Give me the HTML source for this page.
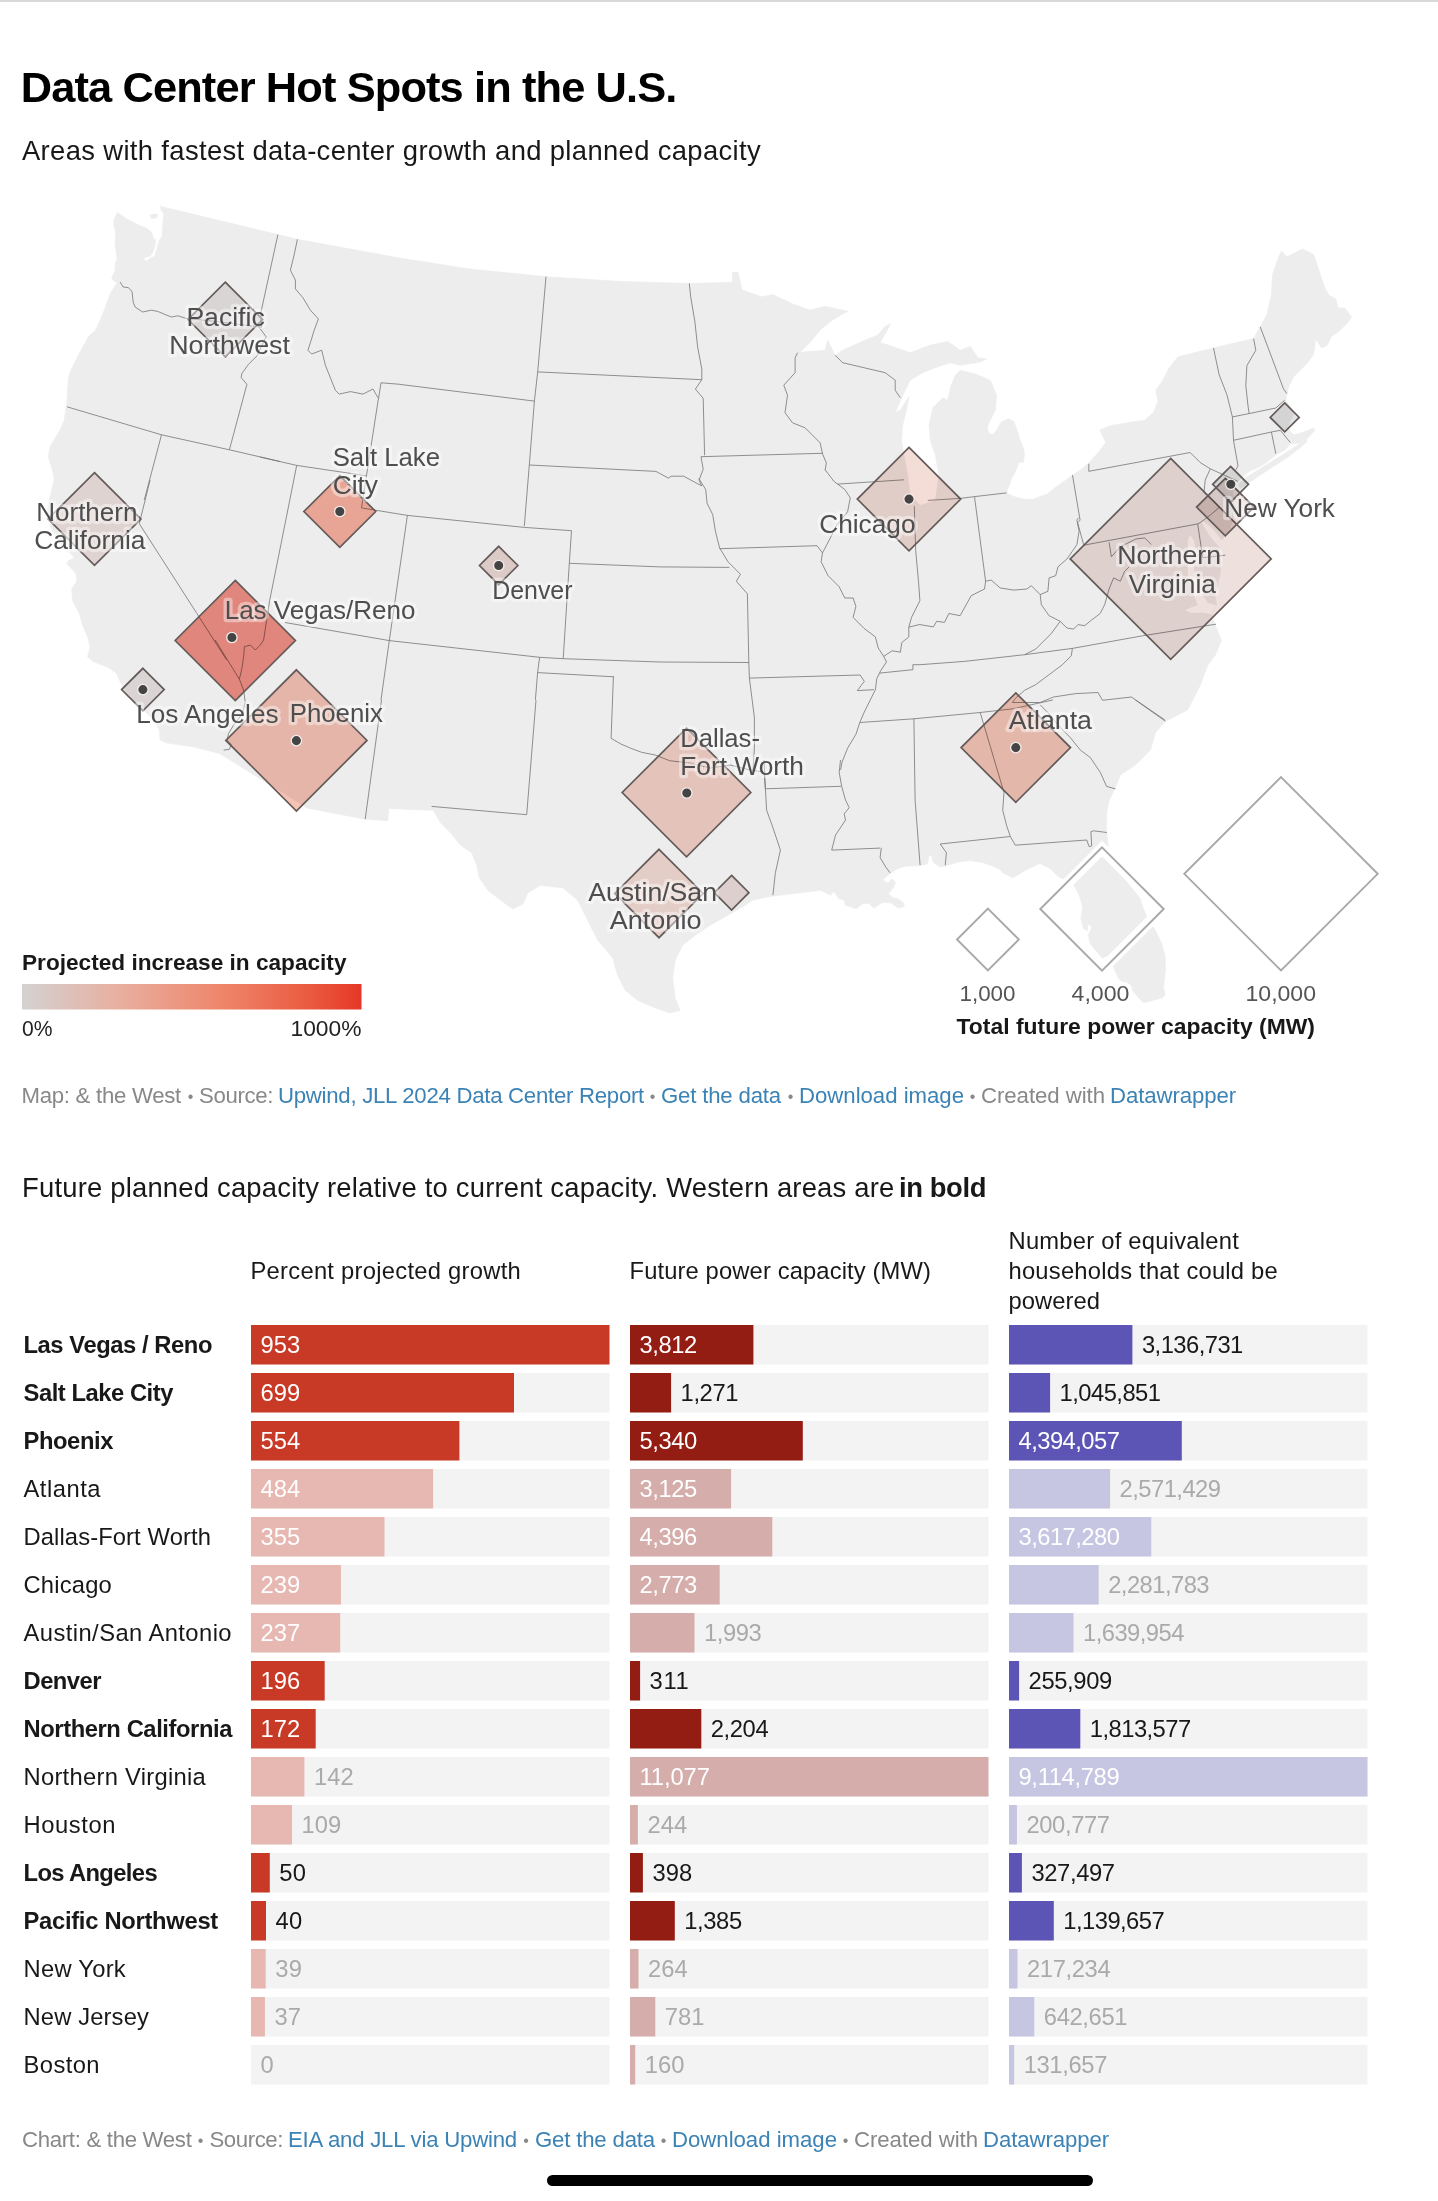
<!DOCTYPE html><html lang="en"><head><meta charset="utf-8"><title>Data Center Hot Spots in the U.S.</title>
<style>
html,body{margin:0;padding:0;background:#fff;}
body{width:1438px;height:2201px;position:relative;overflow:hidden;font-family:"Liberation Sans", Arial, sans-serif;}
.t{position:absolute;white-space:nowrap;line-height:1;margin:0;padding:0;}
b{font-weight:700;}
</style></head><body>
<div style="position:absolute;left:0;top:0;width:1438px;height:1.5px;background:#d9d9d9"></div>
<svg style="position:absolute;left:0;top:0" width="1438" height="1060" viewBox="0 0 1438 1060" font-family="Liberation Sans, Arial, sans-serif">
<defs><linearGradient id="gr" x1="0" x2="1" y1="0" y2="0"><stop offset="0" stop-color="#d4d2d2"/><stop offset="0.3" stop-color="#e9ad9d"/><stop offset="0.6" stop-color="#ee8468"/><stop offset="0.85" stop-color="#ea5a40"/><stop offset="1" stop-color="#e63727"/></linearGradient></defs>
<path d="M160.2 206.3 L277.9 234.6 L297.4 239.3 L400.0 258.1 L469.5 268.9 L546.0 276.7 L622.5 281.5 L689.3 283.4 L732.4 282.3 L732.4 272.3 L738.0 272.3 L742.1 289.8 L761.6 296.8 L772.5 294.6 L785.0 300.1 L792.5 303.8 L810.1 310.1 L825.1 306.3 L847.6 311.3 L832.6 320.1 L820.1 330.1 L810.1 342.6 L800.1 352.2 L825.1 350.2 L827.6 340.1 L835.1 355.2 L842.6 350.2 L865.2 340.1 L877.7 335.1 L885.2 326.4 L890.7 323.9 L880.2 342.6 L892.7 346.4 L910.2 352.7 L930.3 345.1 L947.8 341.4 L960.3 350.2 L970.3 346.4 L977.8 357.7 L986.6 358.9 L980.3 361.9 L960.3 365.2 L950.3 362.7 L935.3 367.7 L922.7 372.7 L910.2 380.2 L904.0 392.7 L895.2 412.7 L900.2 410.2 L909.0 396.5 L906.5 410.2 L902.7 425.3 L901.5 440.3 L904.0 455.3 L907.7 475.3 L910.2 495.4 L920.2 505.4 L935.3 500.4 L939.0 475.3 L935.3 455.3 L930.3 440.3 L929.0 425.3 L932.8 407.7 L942.8 397.7 L947.8 400.2 L950.3 387.7 L955.3 375.2 L960.3 370.2 L975.3 373.9 L990.3 380.2 L996.6 395.2 L995.4 410.2 L989.1 422.8 L988.2 423.8 L987.5 430.1 L989.4 433.8 L993.2 434.4 L997.6 428.8 L1001.3 421.9 L1008.8 418.8 L1013.8 421.3 L1017.0 430.1 L1020.1 440.1 L1023.8 448.8 L1024.5 455.1 L1023.2 462.6 L1018.8 462.6 L1017.0 467.6 L1015.1 472.6 L1011.3 478.9 L1010.1 483.9 L1007.6 488.9 L1006.9 493.3 L1013.8 496.4 L1022.6 498.9 L1032.6 499.5 L1040.1 496.4 L1047.6 493.9 L1055.1 487.6 L1063.9 481.4 L1072.7 475.1 L1080.2 470.1 L1087.7 463.9 L1093.9 457.6 L1100.2 450.1 L1105.8 442.6 L1102.1 435.1 L1099.6 430.1 L1111.2 425.4 L1133.4 421.8 L1144.5 420.3 L1153.4 412.5 L1157.9 401.3 L1155.7 390.2 L1162.3 381.3 L1169.0 368.0 L1177.9 356.8 L1213.5 347.9 L1253.6 338.6 L1260.2 326.8 L1266.9 314.6 L1271.4 294.5 L1272.5 274.5 L1278.0 258.9 L1281.4 251.1 L1286.9 256.7 L1302.5 248.9 L1313.6 254.5 L1318.1 267.8 L1324.8 287.9 L1329.2 295.6 L1335.9 299.0 L1338.1 307.9 L1344.8 307.9 L1351.5 316.8 L1347.0 323.5 L1340.3 330.1 L1331.4 336.8 L1327.0 345.7 L1321.4 347.9 L1315.9 339.0 L1313.6 354.6 L1307.0 363.5 L1300.3 370.2 L1293.6 376.9 L1289.2 385.8 L1286.9 393.6 L1285.8 401.3 L1291.4 408.0 L1293.6 414.7 L1289.2 423.6 L1289.2 430.3 L1293.6 434.7 L1302.5 432.5 L1313.6 428.0 L1314.8 430.3 L1304.7 441.4 L1299.2 443.6 L1290.3 443.6 L1284.7 450.3 L1278.0 453.6 L1264.7 463.6 L1253.6 469.9 L1265.3 462.5 L1247.8 472.5 L1237.8 481.3 L1232.0 487.0 L1233.0 493.0 L1234.0 507.0 L1232.0 523.0 L1227.0 534.0 L1222.0 540.0 L1214.0 530.0 L1206.0 523.0 L1200.0 520.0 L1205.0 529.0 L1211.0 538.0 L1219.0 547.0 L1221.0 562.0 L1220.0 574.0 L1215.0 595.0 L1216.5 605.3 L1211.5 614.0 L1215.3 625.3 L1221.5 640.3 L1215.3 655.3 L1207.8 665.3 L1200.2 685.4 L1187.7 709.9 L1165.5 721.3 L1155.5 732.5 L1150.5 750.1 L1135.4 765.1 L1120.4 775.1 L1115.4 787.6 L1109.2 800.2 L1106.6 812.7 L1106.6 830.2 L1106.8 832.5 L1108.4 848.4 L1115.1 868.4 L1126.8 881.7 L1140.1 898.4 L1142.6 906.8 L1148.5 920.1 L1155.2 930.1 L1161.8 943.5 L1165.2 956.8 L1165.5 970.2 L1163.5 986.9 L1165.2 994.4 L1162.7 997.7 L1153.5 1000.2 L1143.5 1002.7 L1140.1 999.4 L1133.5 991.9 L1126.8 985.2 L1118.4 978.5 L1113.4 966.9 L1105.9 956.0 L1102.6 958.5 L1096.7 951.8 L1090.1 943.5 L1088.4 935.2 L1091.7 926.8 L1087.6 923.5 L1087.6 931.0 L1083.4 928.5 L1080.9 918.5 L1082.6 906.8 L1079.2 895.1 L1074.2 885.9 L1065.0 880.1 L1058.4 876.7 L1050.0 868.4 L1040.0 863.4 L1025.3 870.3 L1012.8 877.8 L1002.7 872.8 L1000.0 869.4 L992.7 866.3 L982.7 862.5 L970.2 860.6 L957.7 861.9 L945.2 866.3 L940.2 866.9 L933.3 862.5 L931.4 855.0 L928.9 856.3 L927.6 863.8 L920.1 865.6 L905.1 866.3 L895.1 870.0 L888.2 875.0 L882.6 880.0 L888.2 883.2 L892.0 878.8 L895.7 882.5 L892.6 888.8 L888.2 893.8 L892.6 897.6 L897.6 898.8 L903.2 902.6 L904.5 906.3 L898.9 908.2 L890.1 902.6 L882.6 902.6 L873.8 908.2 L868.8 903.2 L862.6 903.8 L856.3 908.8 L845.0 905.1 L844.4 900.1 L838.8 898.8 L833.8 891.3 L830.5 895.2 L820.5 890.2 L790.4 894.0 L770.4 896.5 L752.8 900.2 L745.3 905.2 L727.8 915.2 L710.3 925.2 L695.3 935.3 L682.7 945.3 L675.2 960.3 L672.7 977.8 L675.2 997.9 L680.2 1010.4 L670.2 1012.9 L655.2 1007.9 L637.7 1000.4 L625.2 990.3 L617.6 975.3 L612.6 957.8 L597.6 940.3 L587.6 920.2 L577.6 900.2 L562.6 887.7 L560.0 887.8 L540.5 885.3 L528.0 892.8 L523.0 904.1 L513.0 909.1 L500.5 900.3 L487.9 890.3 L479.2 877.8 L476.7 865.2 L471.7 852.7 L460.4 845.2 L450.4 832.7 L440.4 822.7 L434.1 811.4 L432.8 810.4 L389.0 808.4 L387.8 820.7 L365.2 819.2 L307.7 808.2 L220.0 753.8 L193.5 746.8 L166.8 743.1 L160.1 740.1 L160.1 740.1 L159.3 730.1 L153.5 720.1 L140.1 706.8 L126.8 693.4 L119.2 680.1 L116.7 673.4 L108.4 667.5 L93.4 661.7 L87.5 656.7 L90.1 646.9 L87.6 636.9 L82.6 625.2 L79.2 613.5 L72.5 600.2 L71.7 588.5 L76.7 581.8 L75.9 573.5 L66.7 563.4 L69.2 560.1 L74.2 558.4 L70.9 553.4 L67.5 550.9 L60.0 543.4 L51.7 530.1 L47.0 513.4 L49.2 500.0 L54.2 480.0 L52.5 470.2 L48.3 456.8 L50.0 446.8 L55.9 436.8 L60.9 428.5 L64.2 420.1 L66.7 403.4 L67.5 390.1 L68.4 378.4 L70.9 370.1 L79.2 353.4 L88.4 336.7 L95.7 329.9 L100.1 320.2 L105.1 307.7 L110.1 293.9 L117.0 282.6 L113.9 280.7 L111.3 277.6 L113.2 275.1 L115.1 270.1 L115.1 263.2 L117.0 260.1 L116.4 253.8 L115.1 245.1 L115.7 232.6 L113.9 225.0 L113.9 220.0 L117.4 212.5 L127.6 219.4 L138.9 225.0 L146.4 228.2 L150.8 231.3 L152.7 235.1 L153.3 238.2 L155.8 240.1 L155.2 245.1 L153.3 251.3 L150.2 256.3 L145.1 257.0 L143.9 260.1 L146.4 261.3 L150.2 258.2 L154.5 256.3 L157.0 248.8 L158.9 241.3 L162.0 236.3 L162.7 226.3 L163.3 217.5 L163.9 213.8 L160.8 210.0 L160.8 206.3Z" fill="#ededed" stroke="#ededed" stroke-width="0.6" stroke-linejoin="round"/>
<path d="M1238.0 484.0 L1248.0 476.0 L1262.0 467.0 L1280.0 456.0 L1296.0 446.0 L1306.0 440.0 L1308.0 441.0 L1300.0 448.0 L1290.0 456.0 L1270.0 469.0 L1252.0 481.0 L1240.0 489.0Z" fill="#ededed"/>
<path d="M149.5 215.0 L153.3 213.8 L157.7 214.0 L157.7 216.9 L154.5 219.0 L150.8 218.2Z" fill="#ededed"/>
<path d="M1190.2 535.1 L1194.0 540.2 L1196.5 552.7 L1194.0 570.2 L1200.2 590.2 L1207.8 602.7 L1216.5 605.2 L1211.5 614.0 L1202.7 612.8 L1190.2 612.8 L1185.2 610.3 L1190.2 607.8 L1197.7 605.2 L1192.7 592.7 L1187.7 575.2 L1187.7 552.7 L1187.7 540.2Z" fill="#fff"/>
<path d="M120.1 282.0 L123.2 287.0 L128.2 287.6 L132.0 291.4 L133.3 302.6 L135.1 307.0 L142.6 312.0 L151.4 310.2 L157.7 311.4 L165.2 314.5 L171.4 317.0 L177.7 315.8 L185.8 318.3 L215.3 321.4 L261.6 327.2 M67.0 406.8 L161.5 434.8 L229.4 449.8 L280.0 461.5 M161.5 434.8 L144.3 499.9 M229.4 449.8 L246.9 384.3 L241.1 377.6 L241.9 373.4 L248.6 364.2 L257.0 355.9 L263.6 341.7 L266.1 336.7 L258.6 326.7 M150.1 480.0 L139.3 523.7 L196.9 613.5 L226.6 659.9 M263.6 640.0 L260.3 645.0 L255.3 650.0 L250.3 645.0 L244.4 646.7 L243.6 656.7 L241.9 668.4 L239.4 679.2 M239.4 679.2 L243.6 690.1 L245.2 701.7 L242.7 713.4 L233.6 725.1 L228.6 733.5 L226.9 740.1 L231.1 744.3 L229.4 749.3 L223.6 750.1 M215.2 640.0 L239.4 679.2 M365.2 819.2 L381.5 700.0 M431.6 806.4 L526.7 814.7 L536.0 700.0 M772.9 895.2 L775.4 872.7 L780.4 850.1 L772.9 827.6 L766.6 810.1 L765.4 788.8 L764.1 760.0 M765.4 788.8 L841.0 786.3 M840.5 760.0 L839.2 772.5 L841.7 786.3 L845.5 800.1 L849.2 807.6 L844.2 813.8 L845.5 820.1 L835.5 835.1 L831.7 850.1 L880.0 848.1 M913.9 718.8 L915.1 800.2 L920.1 865.2 M860.0 722.5 L913.9 718.8 L980.2 712.5 L1012.8 708.8 L1052.8 700.0 M980.2 712.5 L1004.0 792.6 L1002.7 810.2 L1006.5 825.2 L1010.3 836.5 L1015.3 845.2 M945.2 865.2 L946.4 852.7 L940.2 844.0 L1010.3 836.5 M1015.3 845.2 L1040.0 843.4 L1086.7 840.0 L1089.2 846.7 L1091.7 845.9 L1090.9 831.7 L1093.4 830.8 L1106.8 832.5 M1115.4 788.9 L1106.6 786.4 L1100.4 772.6 L1090.4 757.6 L1080.4 750.1 L1070.3 737.6 L1060.3 727.5 L1047.8 712.5 L1040.3 705.0 M1135.4 700.0 L1165.5 721.3 M881.3 847.7 L880.1 857.7 L886.3 867.8 L890.1 872.8 M1083.8 545.2 L1197.7 523.9 M1072.5 475.1 L1080.1 520.1 L1077.6 522.6 L1083.8 545.2 M1088.8 463.8 L1088.8 471.3 L1190.2 452.5 L1200.2 462.5 L1210.3 468.8 M1210.3 468.8 L1237.8 481.3 M1210.3 468.8 L1205.2 480.1 L1204.0 492.6 L1215.3 502.6 L1219.0 507.6 L1210.3 515.1 L1200.2 522.6 L1197.7 523.9 M1197.7 523.9 L1202.7 557.7 L1225.3 555.2 M1260.2 326.8 L1283.6 389.1 L1286.9 393.6 M1213.5 347.9 L1219.1 374.6 L1226.9 394.7 L1232.4 416.9 L1233.5 440.3 L1238.0 465.9 L1235.8 469.9 M1253.6 338.6 L1255.8 350.2 L1246.9 365.7 L1245.8 385.8 L1248.0 405.8 L1249.1 413.6 M1232.4 416.9 L1249.1 413.6 L1275.8 408.0 L1284.7 400.2 M1233.5 440.3 L1271.4 432.0 L1280.3 430.3 L1290.3 442.5 M1271.4 432.0 L1275.8 453.6 M797.6 352.7 L795.1 357.7 L795.1 372.7 L783.8 385.2 L787.5 395.2 L785.0 412.7 L792.5 422.8 L805.1 427.8 L820.1 442.8 L822.6 454.1 M800.0 453.9 L822.6 453.3 M822.6 454.1 L826.3 462.8 L825.1 470.3 M837.6 484.1 L904.0 479.8 M835.1 355.2 L842.6 362.7 L885.2 372.7 L895.2 380.2 L895.2 390.2 L900.2 397.7 M927.8 500.4 L960.3 498.4 L974.6 496.6 L1006.6 492.9 M546.0 276.7 L537.7 371.9 L534.4 401.1 L529.3 465.0 L524.3 526.2 M537.7 371.9 L701.8 379.7 M400.0 384.4 L534.4 401.1 M689.3 283.4 L690.7 296.8 L694.9 321.8 L697.6 346.8 L701.8 369.1 L701.8 379.7 L695.4 389.1 L703.2 398.3 L704.6 455.3 M701.0 456.7 L800.0 453.9 M529.3 465.0 L655.9 471.4 L668.4 478.1 L671.2 476.2 L683.7 476.2 L699.0 484.5 L701.8 485.9 M701.0 456.7 L703.2 469.2 L699.0 480.3 L701.8 485.9 M378.2 400.0 L361.5 507.9 M260.0 457.0 L296.7 465.4 L365.7 475.7 M361.5 507.9 L407.4 515.4 L524.3 527.4 L571.5 530.7 M296.7 465.4 L280.9 544.6 L269.7 600.3 M407.4 515.4 L389.3 640.6 L381.0 699.9 M285.0 622.5 L389.3 640.6 L539.6 657.3 L563.2 658.7 L660.0 662.0 M571.5 530.7 L569.3 563.3 L563.2 658.7 M569.3 563.3 L660.0 566.9 M539.6 657.3 L537.6 672.6 L535.4 699.9 M537.6 672.6 L613.8 676.8 M698.7 478.3 L705.7 489.5 L707.1 503.4 L712.7 514.5 L715.4 531.2 L719.6 547.9 L728.0 561.8 L736.3 570.1 L740.5 574.3 L736.3 581.3 L747.4 593.8 L748.8 661.9 L749.4 678.1 L754.4 717.6 L754.4 748.2 L753.0 769.9 M660.0 566.9 L729.3 567.4 M660.0 662.0 L748.8 662.5 M613.4 676.4 L611.1 738.4 L620.9 744.0 L630.6 748.2 L641.7 752.3 L655.6 755.1 L669.5 760.7 M719.6 548.7 L817.0 545.7 L822.5 552.9 M825.3 470.0 L833.7 481.1 L844.8 489.5 L850.3 497.8 L847.6 511.7 L836.4 525.6 L830.9 536.8 L822.5 552.9 L821.1 561.8 L828.1 575.7 L839.2 586.8 L844.8 598.0 L853.1 598.0 L855.9 606.3 L853.1 617.4 L864.3 628.6 L875.4 636.9 L878.2 648.0 L883.7 656.4 L886.5 661.9 L880.9 670.3 L876.8 678.6 L875.4 689.7 L869.8 700.9 L864.3 712.0 L860.1 721.7 L855.9 734.3 L847.6 748.2 L842.0 762.1 L840.6 769.9 M883.7 656.4 L892.1 650.8 L900.4 652.2 L901.8 642.5 L908.8 636.9 L908.8 627.2 L919.9 624.4 M908.8 627.2 L911.5 617.4 L919.9 600.7 L918.5 581.3 L915.7 550.7 L914.3 506.2 M749.4 678.1 L860.1 675.0 L864.3 681.4 L857.3 690.6 L874.0 689.7 M879.6 673.1 L912.9 669.7 L912.9 664.7 L920.0 664.7 M920.0 624.6 L933.4 626.9 L936.7 621.3 L944.5 622.4 L948.9 613.5 L960.1 615.7 L971.2 595.7 L984.5 589.0 L985.6 581.2 L991.2 580.1 L1000.1 587.9 L1013.5 590.1 L1026.8 589.0 L1031.3 585.7 L1040.2 594.6 L1047.9 591.3 L1049.1 577.9 L1055.7 575.7 L1058.0 566.8 L1066.9 559.0 L1072.4 551.2 L1076.9 544.5 L1079.1 531.2 L1076.9 520.1 L1078.4 517.8 M974.5 496.7 L985.6 581.2 M1040.2 594.6 L1041.3 604.6 L1049.1 615.7 L1060.2 621.3 M1060.2 621.3 L1066.9 628.0 L1073.5 629.1 L1078.0 624.6 L1084.7 625.7 L1091.3 620.2 L1100.2 613.5 L1104.7 604.6 L1109.1 589.0 L1113.6 577.9 L1120.3 581.2 L1124.7 571.2 L1129.2 566.8 M1060.2 621.3 L1051.3 633.5 L1042.4 642.4 L1035.7 649.1 L1024.6 654.7 M920.0 664.7 L964.5 661.4 L1024.6 654.7 L1072.4 648.4 L1142.5 635.8 L1216.0 624.2 M1072.4 648.4 L1071.3 655.8 L1062.4 664.7 L1053.5 671.4 L1044.6 678.0 L1035.7 684.7 L1024.6 690.3 L1015.7 698.1 L1012.3 702.5 M1040.2 702.5 L1053.5 697.0 L1075.8 693.6 L1098.0 692.5 L1102.5 700.3 L1131.4 697.0 L1164.8 719.9 M1012.3 702.5 L1040.2 702.5 M1109.1 542.3 L1111.4 556.8 L1120.3 546.8 L1135.8 539.0 L1144.7 537.9 L1151.4 544.5 M277.9 234.6 L260.3 315.2 L261.6 327.2 M297.4 239.3 L294.1 255.1 L290.4 270.1 L295.4 280.1 L295.4 288.9 L302.9 297.7 L310.4 310.2 L318.4 318.9 L314.2 330.2 L310.4 342.7 L307.9 350.2 L311.7 354.0 L321.7 350.2 L325.4 365.3 L330.4 377.8 L335.4 390.3 L339.2 394.1 L350.5 391.6 L363.0 394.1 L373.0 389.0 L378.0 397.8 M381.0 382.8 L378.3 400.1 M381.0 382.8 L400.0 384.3 M269.7 600.3 L263.6 640.0 M669.5 760.7 L690.0 763.0 L710.0 768.0 L730.0 765.0 L750.0 770.0 L764.0 772.0 L765.4 788.8" fill="none" stroke="#757575" stroke-width="0.8" stroke-linejoin="round"/>
<path d="M1170.7 458.4 L1271.2 558.9 L1170.7 659.4 L1070.2 558.9Z" fill="#eee0dd" style="mix-blend-mode:multiply"/>
<path d="M1170.7 458.4 L1271.2 558.9 L1170.7 659.4 L1070.2 558.9Z" fill="none" stroke="#645b59" stroke-width="1.7" stroke-linejoin="miter"/>
<path d="M225.3 282.2 L262.6 319.5 L225.3 356.8 L188.0 319.5Z" fill="#eae6e5" style="mix-blend-mode:multiply"/>
<path d="M225.3 282.2 L262.6 319.5 L225.3 356.8 L188.0 319.5Z" fill="none" stroke="#645b59" stroke-width="1.7" stroke-linejoin="miter"/>
<path d="M94.5 472.6 L140.9 519.0 L94.5 565.4 L48.1 519.0Z" fill="#efe3e1" style="mix-blend-mode:multiply"/>
<path d="M94.5 472.6 L140.9 519.0 L94.5 565.4 L48.1 519.0Z" fill="none" stroke="#645b59" stroke-width="1.7" stroke-linejoin="miter"/>
<path d="M339.8 475.6 L375.7 511.5 L339.8 547.4 L303.9 511.5Z" fill="#fab2a0" style="mix-blend-mode:multiply"/>
<path d="M339.8 475.6 L375.7 511.5 L339.8 547.4 L303.9 511.5Z" fill="none" stroke="#645b59" stroke-width="1.7" stroke-linejoin="miter"/>
<path d="M498.7 546.3 L517.9 565.5 L498.7 584.7 L479.5 565.5Z" fill="#eddad6" style="mix-blend-mode:multiply"/>
<path d="M498.7 546.3 L517.9 565.5 L498.7 584.7 L479.5 565.5Z" fill="none" stroke="#645b59" stroke-width="1.7" stroke-linejoin="miter"/>
<path d="M235.3 580.4 L295.4 640.5 L235.3 700.6 L175.2 640.5Z" fill="#f19085" style="mix-blend-mode:multiply"/>
<path d="M235.3 580.4 L295.4 640.5 L235.3 700.6 L175.2 640.5Z" fill="none" stroke="#645b59" stroke-width="1.7" stroke-linejoin="miter"/>
<path d="M142.9 668.3 L164.2 689.6 L142.9 710.9 L121.6 689.6Z" fill="#ebe5e4" style="mix-blend-mode:multiply"/>
<path d="M142.9 668.3 L164.2 689.6 L142.9 710.9 L121.6 689.6Z" fill="none" stroke="#645b59" stroke-width="1.7" stroke-linejoin="miter"/>
<path d="M296.4 669.8 L367.0 740.4 L296.4 811.0 L225.8 740.4Z" fill="#f6c3b5" style="mix-blend-mode:multiply"/>
<path d="M296.4 669.8 L367.0 740.4 L296.4 811.0 L225.8 740.4Z" fill="none" stroke="#645b59" stroke-width="1.7" stroke-linejoin="miter"/>
<path d="M686.5 728.2 L750.8 792.5 L686.5 856.8 L622.2 792.5Z" fill="#f6d2c8" style="mix-blend-mode:multiply"/>
<path d="M686.5 728.2 L750.8 792.5 L686.5 856.8 L622.2 792.5Z" fill="none" stroke="#645b59" stroke-width="1.7" stroke-linejoin="miter"/>
<path d="M659.0 849.3 L703.2 893.5 L659.0 937.7 L614.8 893.5Z" fill="#f5ddd5" style="mix-blend-mode:multiply"/>
<path d="M659.0 849.3 L703.2 893.5 L659.0 937.7 L614.8 893.5Z" fill="none" stroke="#645b59" stroke-width="1.7" stroke-linejoin="miter"/>
<path d="M731.6 875.4 L748.9 892.7 L731.6 910.0 L714.3 892.7Z" fill="#eddfdd" style="mix-blend-mode:multiply"/>
<path d="M731.6 875.4 L748.9 892.7 L731.6 910.0 L714.3 892.7Z" fill="none" stroke="#645b59" stroke-width="1.7" stroke-linejoin="miter"/>
<path d="M909.0 447.4 L960.7 499.1 L909.0 550.8 L857.3 499.1Z" fill="#f3ddd6" style="mix-blend-mode:multiply"/>
<path d="M909.0 447.4 L960.7 499.1 L909.0 550.8 L857.3 499.1Z" fill="none" stroke="#645b59" stroke-width="1.7" stroke-linejoin="miter"/>
<path d="M1015.8 692.9 L1070.5 747.6 L1015.8 802.3 L961.1 747.6Z" fill="#f6c5b8" style="mix-blend-mode:multiply"/>
<path d="M1015.8 692.9 L1070.5 747.6 L1015.8 802.3 L961.1 747.6Z" fill="none" stroke="#645b59" stroke-width="1.7" stroke-linejoin="miter"/>
<path d="M1225.3 478.4 L1254.0 507.1 L1225.3 535.8 L1196.6 507.1Z" fill="#e6d9d7" style="mix-blend-mode:multiply"/>
<path d="M1225.3 478.4 L1254.0 507.1 L1225.3 535.8 L1196.6 507.1Z" fill="none" stroke="#645b59" stroke-width="1.7" stroke-linejoin="miter"/>
<path d="M1230.6 466.4 L1248.5 484.3 L1230.6 502.2 L1212.7 484.3Z" fill="#e6e4e4" style="mix-blend-mode:multiply"/>
<path d="M1230.6 466.4 L1248.5 484.3 L1230.6 502.2 L1212.7 484.3Z" fill="none" stroke="#645b59" stroke-width="1.7" stroke-linejoin="miter"/>
<path d="M1284.7 402.9 L1299.2 417.4 L1284.7 431.9 L1270.2 417.4Z" fill="#e4e4e4" style="mix-blend-mode:multiply"/>
<path d="M1284.7 402.9 L1299.2 417.4 L1284.7 431.9 L1270.2 417.4Z" fill="none" stroke="#645b59" stroke-width="1.7" stroke-linejoin="miter"/>
<circle cx="339.8" cy="511.5" r="5.2" fill="#444" stroke="#f4ecea" stroke-width="1.3"/>
<circle cx="498.7" cy="565.5" r="5.2" fill="#444" stroke="#f4ecea" stroke-width="1.3"/>
<circle cx="231.9" cy="637.5" r="5.2" fill="#444" stroke="#f4ecea" stroke-width="1.3"/>
<circle cx="142.9" cy="689.6" r="5.2" fill="#444" stroke="#f4ecea" stroke-width="1.3"/>
<circle cx="296.4" cy="740.6" r="5.2" fill="#444" stroke="#f4ecea" stroke-width="1.3"/>
<circle cx="686.8" cy="793.0" r="5.2" fill="#444" stroke="#f4ecea" stroke-width="1.3"/>
<circle cx="909.0" cy="499.1" r="5.2" fill="#444" stroke="#f4ecea" stroke-width="1.3"/>
<circle cx="1015.8" cy="747.6" r="5.2" fill="#444" stroke="#f4ecea" stroke-width="1.3"/>
<circle cx="1230.8" cy="484.3" r="5.2" fill="#444" stroke="#f4ecea" stroke-width="1.3"/>
<g font-size="25.8" fill="#4e4e4e" stroke="#fff" stroke-opacity="0.42" stroke-width="6.5" stroke-linejoin="round" paint-order="stroke">
<text x="186.4" y="325.7" textLength="78.3" lengthAdjust="spacingAndGlyphs">Pacific</text>
<text x="169.2" y="353.7" textLength="120.8" lengthAdjust="spacingAndGlyphs">Northwest</text>
<text x="36.2" y="520.7" textLength="101.3" lengthAdjust="spacingAndGlyphs">Northern</text>
<text x="34.2" y="548.6" textLength="111.3" lengthAdjust="spacingAndGlyphs">California</text>
<text x="332.7" y="466.4" textLength="107.3" lengthAdjust="spacingAndGlyphs">Salt Lake</text>
<text x="332.7" y="494.2" textLength="45.3" lengthAdjust="spacingAndGlyphs">City</text>
<text x="492.2" y="599.0" textLength="80.3" lengthAdjust="spacingAndGlyphs">Denver</text>
<text x="224.7" y="619.4" textLength="190.8" lengthAdjust="spacingAndGlyphs">Las Vegas/Reno</text>
<text x="136.2" y="723.1" textLength="142.3" lengthAdjust="spacingAndGlyphs">Los Angeles</text>
<text x="289.7" y="722.3" textLength="93.3" lengthAdjust="spacingAndGlyphs">Phoenix</text>
<text x="680.2" y="746.9" textLength="79.8" lengthAdjust="spacingAndGlyphs">Dallas-</text>
<text x="680.2" y="774.8" textLength="123.8" lengthAdjust="spacingAndGlyphs">Fort Worth</text>
<text x="588.2" y="900.7" textLength="128.8" lengthAdjust="spacingAndGlyphs">Austin/San</text>
<text x="609.7" y="928.8" textLength="91.8" lengthAdjust="spacingAndGlyphs">Antonio</text>
<text x="819.2" y="532.8" textLength="96.3" lengthAdjust="spacingAndGlyphs">Chicago</text>
<text x="1008.7" y="728.5" textLength="83.3" lengthAdjust="spacingAndGlyphs">Atlanta</text>
<text x="1117.2" y="564.4" textLength="103.8" lengthAdjust="spacingAndGlyphs">Northern</text>
<text x="1128.7" y="592.5" textLength="87.3" lengthAdjust="spacingAndGlyphs">Virginia</text>
<text x="1224.2" y="517.4" textLength="110.8" lengthAdjust="spacingAndGlyphs">New York</text>
</g>
<path d="M987.9 909.8 L1017.6 939.5 L987.9 969.2 L958.2 939.5Z" fill="none" stroke="#fff" stroke-width="11" stroke-linejoin="miter"/>
<path d="M1102.0 848.5 L1162.5 909.0 L1102.0 969.5 L1041.5 909.0Z" fill="none" stroke="#fff" stroke-width="11" stroke-linejoin="miter"/>
<path d="M1281.0 778.3 L1376.5 873.8 L1281.0 969.3 L1185.5 873.8Z" fill="none" stroke="#fff" stroke-width="11" stroke-linejoin="miter"/>
<path d="M987.9 908.6 L1018.8 939.5 L987.9 970.4 L957.0 939.5Z" fill="none" stroke="#a8a8a8" stroke-width="1.9" stroke-linejoin="miter"/>
<path d="M1102.0 847.3 L1163.7 909.0 L1102.0 970.7 L1040.3 909.0Z" fill="none" stroke="#a8a8a8" stroke-width="1.9" stroke-linejoin="miter"/>
<path d="M1281.0 777.1 L1377.7 873.8 L1281.0 970.5 L1184.3 873.8Z" fill="none" stroke="#a8a8a8" stroke-width="1.9" stroke-linejoin="miter"/>
<g font-size="22.6" fill="#555" stroke="#fff" stroke-width="8" stroke-linejoin="round" paint-order="stroke">
<text x="959.5" y="1000.6" textLength="56.0" lengthAdjust="spacingAndGlyphs">1,000</text>
<text x="1071.5" y="1000.6" textLength="58.0" lengthAdjust="spacingAndGlyphs">4,000</text>
<text x="1245.5" y="1000.6" textLength="70.5" lengthAdjust="spacingAndGlyphs">10,000</text>
</g>
<text x="956.5" y="1033.5" font-size="22.8" font-weight="700" fill="#181818" stroke="#fff" stroke-width="6" stroke-linejoin="round" paint-order="stroke" textLength="358.5" lengthAdjust="spacingAndGlyphs">Total future power capacity (MW)</text>
<text x="22" y="970" font-size="22.8" font-weight="700" fill="#181818" textLength="324.5" lengthAdjust="spacingAndGlyphs">Projected increase in capacity</text>
<rect x="22" y="984" width="339.5" height="25.5" fill="url(#gr)"/>
<text x="22" y="1036.2" font-size="22.6" fill="#222" textLength="30.5" lengthAdjust="spacingAndGlyphs">0%</text>
<text x="290.5" y="1036.2" font-size="22.6" fill="#222" textLength="71" lengthAdjust="spacingAndGlyphs">1000%</text>
</svg>
<svg style="position:absolute;left:0;top:1300px" width="1438" height="820" viewBox="0 1300 1438 820">
<rect x="251" y="1325" width="358.5" height="39.5" fill="#f3f3f3"/>
<rect x="630" y="1325" width="358.5" height="39.5" fill="#f3f3f3"/>
<rect x="1009" y="1325" width="358.5" height="39.5" fill="#f3f3f3"/>
<rect x="251" y="1373" width="358.5" height="39.5" fill="#f3f3f3"/>
<rect x="630" y="1373" width="358.5" height="39.5" fill="#f3f3f3"/>
<rect x="1009" y="1373" width="358.5" height="39.5" fill="#f3f3f3"/>
<rect x="251" y="1421" width="358.5" height="39.5" fill="#f3f3f3"/>
<rect x="630" y="1421" width="358.5" height="39.5" fill="#f3f3f3"/>
<rect x="1009" y="1421" width="358.5" height="39.5" fill="#f3f3f3"/>
<rect x="251" y="1469" width="358.5" height="39.5" fill="#f3f3f3"/>
<rect x="630" y="1469" width="358.5" height="39.5" fill="#f3f3f3"/>
<rect x="1009" y="1469" width="358.5" height="39.5" fill="#f3f3f3"/>
<rect x="251" y="1517" width="358.5" height="39.5" fill="#f3f3f3"/>
<rect x="630" y="1517" width="358.5" height="39.5" fill="#f3f3f3"/>
<rect x="1009" y="1517" width="358.5" height="39.5" fill="#f3f3f3"/>
<rect x="251" y="1565" width="358.5" height="39.5" fill="#f3f3f3"/>
<rect x="630" y="1565" width="358.5" height="39.5" fill="#f3f3f3"/>
<rect x="1009" y="1565" width="358.5" height="39.5" fill="#f3f3f3"/>
<rect x="251" y="1613" width="358.5" height="39.5" fill="#f3f3f3"/>
<rect x="630" y="1613" width="358.5" height="39.5" fill="#f3f3f3"/>
<rect x="1009" y="1613" width="358.5" height="39.5" fill="#f3f3f3"/>
<rect x="251" y="1661" width="358.5" height="39.5" fill="#f3f3f3"/>
<rect x="630" y="1661" width="358.5" height="39.5" fill="#f3f3f3"/>
<rect x="1009" y="1661" width="358.5" height="39.5" fill="#f3f3f3"/>
<rect x="251" y="1709" width="358.5" height="39.5" fill="#f3f3f3"/>
<rect x="630" y="1709" width="358.5" height="39.5" fill="#f3f3f3"/>
<rect x="1009" y="1709" width="358.5" height="39.5" fill="#f3f3f3"/>
<rect x="251" y="1757" width="358.5" height="39.5" fill="#f3f3f3"/>
<rect x="630" y="1757" width="358.5" height="39.5" fill="#f3f3f3"/>
<rect x="1009" y="1757" width="358.5" height="39.5" fill="#f3f3f3"/>
<rect x="251" y="1805" width="358.5" height="39.5" fill="#f3f3f3"/>
<rect x="630" y="1805" width="358.5" height="39.5" fill="#f3f3f3"/>
<rect x="1009" y="1805" width="358.5" height="39.5" fill="#f3f3f3"/>
<rect x="251" y="1853" width="358.5" height="39.5" fill="#f3f3f3"/>
<rect x="630" y="1853" width="358.5" height="39.5" fill="#f3f3f3"/>
<rect x="1009" y="1853" width="358.5" height="39.5" fill="#f3f3f3"/>
<rect x="251" y="1901" width="358.5" height="39.5" fill="#f3f3f3"/>
<rect x="630" y="1901" width="358.5" height="39.5" fill="#f3f3f3"/>
<rect x="1009" y="1901" width="358.5" height="39.5" fill="#f3f3f3"/>
<rect x="251" y="1949" width="358.5" height="39.5" fill="#f3f3f3"/>
<rect x="630" y="1949" width="358.5" height="39.5" fill="#f3f3f3"/>
<rect x="1009" y="1949" width="358.5" height="39.5" fill="#f3f3f3"/>
<rect x="251" y="1997" width="358.5" height="39.5" fill="#f3f3f3"/>
<rect x="630" y="1997" width="358.5" height="39.5" fill="#f3f3f3"/>
<rect x="1009" y="1997" width="358.5" height="39.5" fill="#f3f3f3"/>
<rect x="251" y="2045" width="358.5" height="39.5" fill="#f3f3f3"/>
<rect x="630" y="2045" width="358.5" height="39.5" fill="#f3f3f3"/>
<rect x="1009" y="2045" width="358.5" height="39.5" fill="#f3f3f3"/>
<rect x="251" y="1325" width="358.5" height="39.5" fill="#c93a26"/>
<rect x="630" y="1325" width="123.4" height="39.5" fill="#931c13"/>
<rect x="1009" y="1325" width="123.4" height="39.5" fill="#5d55b5"/>
<rect x="251" y="1373" width="263.0" height="39.5" fill="#c93a26"/>
<rect x="630" y="1373" width="41.1" height="39.5" fill="#931c13"/>
<rect x="1009" y="1373" width="41.1" height="39.5" fill="#5d55b5"/>
<rect x="251" y="1421" width="208.4" height="39.5" fill="#c93a26"/>
<rect x="630" y="1421" width="172.8" height="39.5" fill="#931c13"/>
<rect x="1009" y="1421" width="172.8" height="39.5" fill="#5d55b5"/>
<rect x="251" y="1469" width="182.1" height="39.5" fill="#e7b7b1"/>
<rect x="630" y="1469" width="101.1" height="39.5" fill="#d5adab"/>
<rect x="1009" y="1469" width="101.1" height="39.5" fill="#c6c5e2"/>
<rect x="251" y="1517" width="133.5" height="39.5" fill="#e7b7b1"/>
<rect x="630" y="1517" width="142.3" height="39.5" fill="#d5adab"/>
<rect x="1009" y="1517" width="142.3" height="39.5" fill="#c6c5e2"/>
<rect x="251" y="1565" width="89.9" height="39.5" fill="#e7b7b1"/>
<rect x="630" y="1565" width="89.7" height="39.5" fill="#d5adab"/>
<rect x="1009" y="1565" width="89.7" height="39.5" fill="#c6c5e2"/>
<rect x="251" y="1613" width="89.2" height="39.5" fill="#e7b7b1"/>
<rect x="630" y="1613" width="64.5" height="39.5" fill="#d5adab"/>
<rect x="1009" y="1613" width="64.5" height="39.5" fill="#c6c5e2"/>
<rect x="251" y="1661" width="73.7" height="39.5" fill="#c93a26"/>
<rect x="630" y="1661" width="10.1" height="39.5" fill="#931c13"/>
<rect x="1009" y="1661" width="10.1" height="39.5" fill="#5d55b5"/>
<rect x="251" y="1709" width="64.7" height="39.5" fill="#c93a26"/>
<rect x="630" y="1709" width="71.3" height="39.5" fill="#931c13"/>
<rect x="1009" y="1709" width="71.3" height="39.5" fill="#5d55b5"/>
<rect x="251" y="1757" width="53.4" height="39.5" fill="#e7b7b1"/>
<rect x="630" y="1757" width="358.5" height="39.5" fill="#d5adab"/>
<rect x="1009" y="1757" width="358.5" height="39.5" fill="#c6c5e2"/>
<rect x="251" y="1805" width="41.0" height="39.5" fill="#e7b7b1"/>
<rect x="630" y="1805" width="7.9" height="39.5" fill="#d5adab"/>
<rect x="1009" y="1805" width="7.9" height="39.5" fill="#c6c5e2"/>
<rect x="251" y="1853" width="18.8" height="39.5" fill="#c93a26"/>
<rect x="630" y="1853" width="12.9" height="39.5" fill="#931c13"/>
<rect x="1009" y="1853" width="12.9" height="39.5" fill="#5d55b5"/>
<rect x="251" y="1901" width="15.0" height="39.5" fill="#c93a26"/>
<rect x="630" y="1901" width="44.8" height="39.5" fill="#931c13"/>
<rect x="1009" y="1901" width="44.8" height="39.5" fill="#5d55b5"/>
<rect x="251" y="1949" width="14.7" height="39.5" fill="#e7b7b1"/>
<rect x="630" y="1949" width="8.5" height="39.5" fill="#d5adab"/>
<rect x="1009" y="1949" width="8.5" height="39.5" fill="#c6c5e2"/>
<rect x="251" y="1997" width="13.9" height="39.5" fill="#e7b7b1"/>
<rect x="630" y="1997" width="25.3" height="39.5" fill="#d5adab"/>
<rect x="1009" y="1997" width="25.3" height="39.5" fill="#c6c5e2"/>
<rect x="630" y="2045" width="5.2" height="39.5" fill="#d5adab"/>
<rect x="1009" y="2045" width="5.2" height="39.5" fill="#c6c5e2"/>
</svg>
<div class="t" id="t0" style="left:20.8px;top:66.1px;font-size:43.4px;font-weight:700;color:#000;letter-spacing:-0.878px;">Data Center Hot Spots in the U.S.</div>
<div class="t" id="t1" style="left:22.0px;top:137.3px;font-size:27.4px;font-weight:400;color:#181818;letter-spacing:0.350px;">Areas with fastest data-center growth and planned capacity</div>
<div class="t" id="t2" style="left:21.5px;top:1084.7px;font-size:22.2px;font-weight:400;color:#888;letter-spacing:-0.274px;">Map: &amp; the West</div>
<div class="t" id="t3" style="left:187.7px;top:1088.6px;font-size:16px;font-weight:400;color:#888;letter-spacing:0.000px;">•</div>
<div class="t" id="t4" style="left:199.0px;top:1084.7px;font-size:22.2px;font-weight:400;color:#888;letter-spacing:-0.353px;">Source:</div>
<div class="t" id="t5" style="left:278.0px;top:1084.7px;font-size:22.2px;font-weight:400;color:#3b82b5;letter-spacing:-0.267px;">Upwind, JLL 2024 Data Center Report</div>
<div class="t" id="t6" style="left:649.7px;top:1088.6px;font-size:16px;font-weight:400;color:#888;letter-spacing:0.000px;">•</div>
<div class="t" id="t7" style="left:661.0px;top:1084.7px;font-size:22.2px;font-weight:400;color:#3b82b5;letter-spacing:-0.177px;">Get the data</div>
<div class="t" id="t8" style="left:787.7px;top:1088.6px;font-size:16px;font-weight:400;color:#888;letter-spacing:0.000px;">•</div>
<div class="t" id="t9" style="left:799.0px;top:1084.7px;font-size:22.2px;font-weight:400;color:#3b82b5;letter-spacing:-0.020px;">Download image</div>
<div class="t" id="t10" style="left:969.7px;top:1088.6px;font-size:16px;font-weight:400;color:#888;letter-spacing:0.000px;">•</div>
<div class="t" id="t11" style="left:981.0px;top:1084.7px;font-size:22.2px;font-weight:400;color:#888;letter-spacing:-0.047px;">Created with</div>
<div class="t" id="t12" style="left:1110.0px;top:1084.7px;font-size:22.2px;font-weight:400;color:#3b82b5;letter-spacing:-0.094px;">Datawrapper</div>
<div class="t" id="t13" style="left:22.0px;top:2128.7px;font-size:22.2px;font-weight:400;color:#888;letter-spacing:-0.306px;">Chart: &amp; the West</div>
<div class="t" id="t14" style="left:197.7px;top:2132.6px;font-size:16px;font-weight:400;color:#888;letter-spacing:0.000px;">•</div>
<div class="t" id="t15" style="left:209.5px;top:2128.7px;font-size:22.2px;font-weight:400;color:#888;letter-spacing:-0.424px;">Source:</div>
<div class="t" id="t16" style="left:288.0px;top:2128.7px;font-size:22.2px;font-weight:400;color:#3b82b5;letter-spacing:-0.206px;">EIA and JLL via Upwind</div>
<div class="t" id="t17" style="left:523.2px;top:2132.6px;font-size:16px;font-weight:400;color:#888;letter-spacing:0.000px;">•</div>
<div class="t" id="t18" style="left:535.0px;top:2128.7px;font-size:22.2px;font-weight:400;color:#3b82b5;letter-spacing:-0.177px;">Get the data</div>
<div class="t" id="t19" style="left:660.7px;top:2132.6px;font-size:16px;font-weight:400;color:#888;letter-spacing:0.000px;">•</div>
<div class="t" id="t20" style="left:672.0px;top:2128.7px;font-size:22.2px;font-weight:400;color:#3b82b5;letter-spacing:-0.020px;">Download image</div>
<div class="t" id="t21" style="left:842.7px;top:2132.6px;font-size:16px;font-weight:400;color:#888;letter-spacing:0.000px;">•</div>
<div class="t" id="t22" style="left:854.0px;top:2128.7px;font-size:22.2px;font-weight:400;color:#888;letter-spacing:-0.047px;">Created with</div>
<div class="t" id="t23" style="left:983.0px;top:2128.7px;font-size:22.2px;font-weight:400;color:#3b82b5;letter-spacing:-0.094px;">Datawrapper</div>
<div class="t" id="t24" style="left:22.0px;top:1173.8px;font-size:27.4px;font-weight:400;color:#181818;letter-spacing:0.209px;">Future planned capacity relative to current capacity. Western areas are</div>
<div class="t" id="t25" style="left:899.0px;top:1173.8px;font-size:27.4px;font-weight:700;color:#181818;letter-spacing:-0.395px;">in bold</div>
<div class="t" id="t26" style="left:250.5px;top:1258.9px;font-size:23.75px;font-weight:400;color:#181818;letter-spacing:0.269px;">Percent projected growth</div>
<div class="t" id="t27" style="left:629.5px;top:1258.9px;font-size:23.75px;font-weight:400;color:#181818;letter-spacing:0.124px;">Future power capacity (MW)</div>
<div class="t" id="t28" style="left:1008.5px;top:1228.9px;font-size:23.75px;font-weight:400;color:#181818;letter-spacing:0.237px;">Number of equivalent</div>
<div class="t" id="t29" style="left:1008.5px;top:1258.9px;font-size:23.75px;font-weight:400;color:#181818;letter-spacing:0.225px;">households that could be</div>
<div class="t" id="t30" style="left:1008.5px;top:1288.9px;font-size:23.75px;font-weight:400;color:#181818;letter-spacing:0.056px;">powered</div>
<div class="t" id="t31" style="left:23.5px;top:1333.0px;font-size:23.75px;font-weight:700;color:#181818;letter-spacing:-0.429px;">Las Vegas / Reno</div>
<div class="t" id="t32" style="left:260.5px;top:1333.0px;font-size:23.75px;font-weight:400;color:#fff;letter-spacing:0.070px;">953</div>
<div class="t" id="t33" style="left:639.5px;top:1333.0px;font-size:23.75px;font-weight:400;color:#fff;letter-spacing:-0.408px;">3,812</div>
<div class="t" id="t34" style="left:1141.9px;top:1333.0px;font-size:23.75px;font-weight:400;color:#181818;letter-spacing:-0.536px;">3,136,731</div>
<div class="t" id="t35" style="left:23.5px;top:1381.0px;font-size:23.75px;font-weight:700;color:#181818;letter-spacing:-0.448px;">Salt Lake City</div>
<div class="t" id="t36" style="left:260.5px;top:1381.0px;font-size:23.75px;font-weight:400;color:#fff;letter-spacing:0.070px;">699</div>
<div class="t" id="t37" style="left:680.6px;top:1381.0px;font-size:23.75px;font-weight:400;color:#181818;letter-spacing:-0.408px;">1,271</div>
<div class="t" id="t38" style="left:1059.6px;top:1381.0px;font-size:23.75px;font-weight:400;color:#181818;letter-spacing:-0.536px;">1,045,851</div>
<div class="t" id="t39" style="left:23.5px;top:1429.0px;font-size:23.75px;font-weight:700;color:#181818;letter-spacing:-0.413px;">Phoenix</div>
<div class="t" id="t40" style="left:260.5px;top:1429.0px;font-size:23.75px;font-weight:400;color:#fff;letter-spacing:0.070px;">554</div>
<div class="t" id="t41" style="left:639.5px;top:1429.0px;font-size:23.75px;font-weight:400;color:#fff;letter-spacing:-0.408px;">5,340</div>
<div class="t" id="t42" style="left:1018.5px;top:1429.0px;font-size:23.75px;font-weight:400;color:#fff;letter-spacing:-0.536px;">4,394,057</div>
<div class="t" id="t43" style="left:23.5px;top:1477.0px;font-size:23.75px;font-weight:400;color:#181818;letter-spacing:0.507px;">Atlanta</div>
<div class="t" id="t44" style="left:260.5px;top:1477.0px;font-size:23.75px;font-weight:400;color:#fff;letter-spacing:0.070px;">484</div>
<div class="t" id="t45" style="left:639.5px;top:1477.0px;font-size:23.75px;font-weight:400;color:#fff;letter-spacing:-0.408px;">3,125</div>
<div class="t" id="t46" style="left:1119.6px;top:1477.0px;font-size:23.75px;font-weight:400;color:#aaa;letter-spacing:-0.536px;">2,571,429</div>
<div class="t" id="t47" style="left:23.5px;top:1525.0px;font-size:23.75px;font-weight:400;color:#181818;letter-spacing:0.109px;">Dallas-Fort Worth</div>
<div class="t" id="t48" style="left:260.5px;top:1525.0px;font-size:23.75px;font-weight:400;color:#fff;letter-spacing:0.070px;">355</div>
<div class="t" id="t49" style="left:639.5px;top:1525.0px;font-size:23.75px;font-weight:400;color:#fff;letter-spacing:-0.408px;">4,396</div>
<div class="t" id="t50" style="left:1018.5px;top:1525.0px;font-size:23.75px;font-weight:400;color:#fff;letter-spacing:-0.536px;">3,617,280</div>
<div class="t" id="t51" style="left:23.5px;top:1573.0px;font-size:23.75px;font-weight:400;color:#181818;letter-spacing:0.194px;">Chicago</div>
<div class="t" id="t52" style="left:260.5px;top:1573.0px;font-size:23.75px;font-weight:400;color:#fff;letter-spacing:0.070px;">239</div>
<div class="t" id="t53" style="left:639.5px;top:1573.0px;font-size:23.75px;font-weight:400;color:#fff;letter-spacing:-0.408px;">2,773</div>
<div class="t" id="t54" style="left:1108.2px;top:1573.0px;font-size:23.75px;font-weight:400;color:#aaa;letter-spacing:-0.536px;">2,281,783</div>
<div class="t" id="t55" style="left:23.5px;top:1621.0px;font-size:23.75px;font-weight:400;color:#181818;letter-spacing:0.432px;">Austin/San Antonio</div>
<div class="t" id="t56" style="left:260.5px;top:1621.0px;font-size:23.75px;font-weight:400;color:#fff;letter-spacing:0.070px;">237</div>
<div class="t" id="t57" style="left:704.0px;top:1621.0px;font-size:23.75px;font-weight:400;color:#aaa;letter-spacing:-0.408px;">1,993</div>
<div class="t" id="t58" style="left:1083.0px;top:1621.0px;font-size:23.75px;font-weight:400;color:#aaa;letter-spacing:-0.536px;">1,639,954</div>
<div class="t" id="t59" style="left:23.5px;top:1669.0px;font-size:23.75px;font-weight:700;color:#181818;letter-spacing:-0.505px;">Denver</div>
<div class="t" id="t60" style="left:260.5px;top:1669.0px;font-size:23.75px;font-weight:400;color:#fff;letter-spacing:0.070px;">196</div>
<div class="t" id="t61" style="left:649.6px;top:1669.0px;font-size:23.75px;font-weight:400;color:#181818;letter-spacing:0.658px;">311</div>
<div class="t" id="t62" style="left:1028.6px;top:1669.0px;font-size:23.75px;font-weight:400;color:#181818;letter-spacing:-0.366px;">255,909</div>
<div class="t" id="t63" style="left:23.5px;top:1717.0px;font-size:23.75px;font-weight:700;color:#181818;letter-spacing:-0.416px;">Northern California</div>
<div class="t" id="t64" style="left:260.5px;top:1717.0px;font-size:23.75px;font-weight:400;color:#fff;letter-spacing:0.070px;">172</div>
<div class="t" id="t65" style="left:710.8px;top:1717.0px;font-size:23.75px;font-weight:400;color:#181818;letter-spacing:-0.408px;">2,204</div>
<div class="t" id="t66" style="left:1089.8px;top:1717.0px;font-size:23.75px;font-weight:400;color:#181818;letter-spacing:-0.536px;">1,813,577</div>
<div class="t" id="t67" style="left:23.5px;top:1765.0px;font-size:23.75px;font-weight:400;color:#181818;letter-spacing:0.278px;">Northern Virginia</div>
<div class="t" id="t68" style="left:313.9px;top:1765.0px;font-size:23.75px;font-weight:400;color:#aaa;letter-spacing:0.070px;">142</div>
<div class="t" id="t69" style="left:639.5px;top:1765.0px;font-size:23.75px;font-weight:400;color:#fff;letter-spacing:-0.090px;">11,077</div>
<div class="t" id="t70" style="left:1018.5px;top:1765.0px;font-size:23.75px;font-weight:400;color:#fff;letter-spacing:-0.340px;">9,114,789</div>
<div class="t" id="t71" style="left:23.5px;top:1813.0px;font-size:23.75px;font-weight:400;color:#181818;letter-spacing:0.576px;">Houston</div>
<div class="t" id="t72" style="left:301.5px;top:1813.0px;font-size:23.75px;font-weight:400;color:#aaa;letter-spacing:0.070px;">109</div>
<div class="t" id="t73" style="left:647.4px;top:1813.0px;font-size:23.75px;font-weight:400;color:#aaa;letter-spacing:0.070px;">244</div>
<div class="t" id="t74" style="left:1026.4px;top:1813.0px;font-size:23.75px;font-weight:400;color:#aaa;letter-spacing:-0.366px;">200,777</div>
<div class="t" id="t75" style="left:23.5px;top:1861.0px;font-size:23.75px;font-weight:700;color:#181818;letter-spacing:-0.622px;">Los Angeles</div>
<div class="t" id="t76" style="left:279.3px;top:1861.0px;font-size:23.75px;font-weight:400;color:#181818;letter-spacing:0.239px;">50</div>
<div class="t" id="t77" style="left:652.4px;top:1861.0px;font-size:23.75px;font-weight:400;color:#181818;letter-spacing:0.070px;">398</div>
<div class="t" id="t78" style="left:1031.4px;top:1861.0px;font-size:23.75px;font-weight:400;color:#181818;letter-spacing:-0.366px;">327,497</div>
<div class="t" id="t79" style="left:23.5px;top:1909.0px;font-size:23.75px;font-weight:700;color:#181818;letter-spacing:-0.282px;">Pacific Northwest</div>
<div class="t" id="t80" style="left:275.5px;top:1909.0px;font-size:23.75px;font-weight:400;color:#181818;letter-spacing:0.239px;">40</div>
<div class="t" id="t81" style="left:684.3px;top:1909.0px;font-size:23.75px;font-weight:400;color:#181818;letter-spacing:-0.408px;">1,385</div>
<div class="t" id="t82" style="left:1063.3px;top:1909.0px;font-size:23.75px;font-weight:400;color:#181818;letter-spacing:-0.536px;">1,139,657</div>
<div class="t" id="t83" style="left:23.5px;top:1957.0px;font-size:23.75px;font-weight:400;color:#181818;letter-spacing:0.270px;">New York</div>
<div class="t" id="t84" style="left:275.2px;top:1957.0px;font-size:23.75px;font-weight:400;color:#aaa;letter-spacing:0.239px;">39</div>
<div class="t" id="t85" style="left:648.0px;top:1957.0px;font-size:23.75px;font-weight:400;color:#aaa;letter-spacing:0.070px;">264</div>
<div class="t" id="t86" style="left:1027.0px;top:1957.0px;font-size:23.75px;font-weight:400;color:#aaa;letter-spacing:-0.366px;">217,234</div>
<div class="t" id="t87" style="left:23.5px;top:2005.0px;font-size:23.75px;font-weight:400;color:#181818;letter-spacing:0.144px;">New Jersey</div>
<div class="t" id="t88" style="left:274.4px;top:2005.0px;font-size:23.75px;font-weight:400;color:#aaa;letter-spacing:0.239px;">37</div>
<div class="t" id="t89" style="left:664.8px;top:2005.0px;font-size:23.75px;font-weight:400;color:#aaa;letter-spacing:0.070px;">781</div>
<div class="t" id="t90" style="left:1043.8px;top:2005.0px;font-size:23.75px;font-weight:400;color:#aaa;letter-spacing:-0.366px;">642,651</div>
<div class="t" id="t91" style="left:23.5px;top:2053.0px;font-size:23.75px;font-weight:400;color:#181818;letter-spacing:0.424px;">Boston</div>
<div class="t" id="t92" style="left:260.5px;top:2053.0px;font-size:23.75px;font-weight:400;color:#aaa;letter-spacing:0.000px;">0</div>
<div class="t" id="t93" style="left:644.7px;top:2053.0px;font-size:23.75px;font-weight:400;color:#aaa;letter-spacing:0.070px;">160</div>
<div class="t" id="t94" style="left:1023.7px;top:2053.0px;font-size:23.75px;font-weight:400;color:#aaa;letter-spacing:-0.366px;">131,657</div>
<div style="position:absolute;left:547px;top:2174.5px;width:546px;height:11.5px;border-radius:6px;background:#000"></div>
</body></html>
